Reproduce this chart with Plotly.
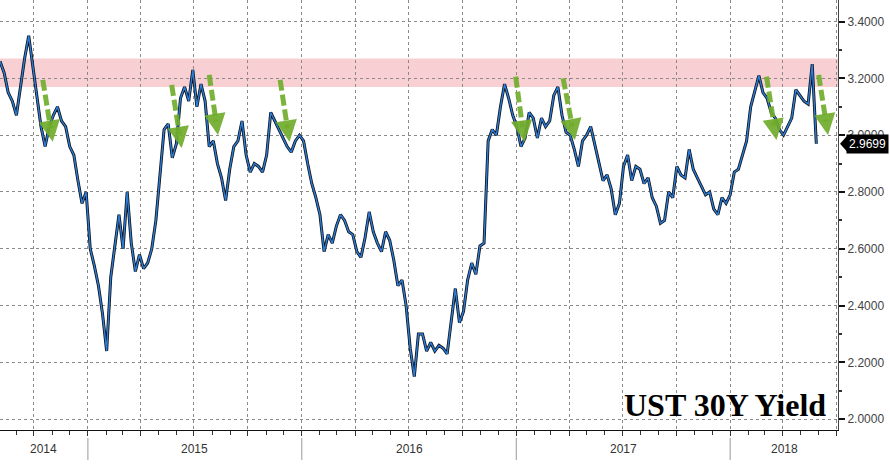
import plotly.graph_objects as go
import pandas as pd

# ---- weekly closes (UST 30Y yield, %) ----
q3_2014 = [3.26, 3.22, 3.15, 3.12, 3.07, 3.18, 3.27, 3.35, 3.24]
q4_2014 = [3.12, 3.03, 2.96, 3.03, 3.07, 3.10, 3.05, 3.03, 2.96, 2.93, 2.84, 2.76, 2.80]
q1_2015 = [2.60, 2.54, 2.47, 2.37, 2.24, 2.50, 2.62, 2.72, 2.60, 2.80, 2.62, 2.52, 2.58]
q2_2015 = [2.53, 2.55, 2.60, 2.70, 2.85, 3.02, 3.04, 2.92, 2.97, 3.13, 3.17, 3.12, 3.23]
q3_2015 = [3.10, 3.18, 3.12, 2.96, 2.98, 2.90, 2.85, 2.77, 2.88, 2.96, 2.98, 3.05, 2.93]
q4_2015 = [2.87, 2.90, 2.89, 2.87, 2.93, 3.08, 3.05, 3.02, 2.99, 2.96, 2.94, 2.98, 3.00]
q1_2016 = [2.98, 2.90, 2.83, 2.78, 2.72, 2.59, 2.65, 2.62, 2.68, 2.72, 2.70, 2.66, 2.65]
q2_2016 = [2.59, 2.57, 2.64, 2.73, 2.66, 2.62, 2.59, 2.66, 2.63, 2.56, 2.47, 2.49, 2.40]
q3_2016 = [2.25, 2.15, 2.30, 2.30, 2.24, 2.27, 2.24, 2.26, 2.25, 2.23, 2.35, 2.46, 2.34]
q4_2016 = [2.38, 2.49, 2.55, 2.51, 2.61, 2.62, 2.98, 3.02, 3.00, 3.10, 3.18, 3.13, 3.07]
q1_2017 = [3.03, 2.96, 2.99, 3.08, 3.06, 2.99, 3.06, 3.03, 3.05, 3.14, 3.17, 3.07, 3.01]
q2_2017 = [3.00, 2.95, 2.89, 2.98, 3.00, 3.03, 2.97, 2.91, 2.84, 2.86, 2.81, 2.72, 2.76]
q3_2017 = [2.89, 2.93, 2.84, 2.89, 2.88, 2.83, 2.85, 2.78, 2.75, 2.69, 2.70, 2.80, 2.78]
q4_2017 = [2.89, 2.86, 2.85, 2.95, 2.88, 2.85, 2.82, 2.79, 2.80, 2.74, 2.72, 2.78, 2.76]
q1_2018 = [2.79, 2.87, 2.88, 2.93, 2.98, 3.10, 3.16, 3.21, 3.15, 3.13, 3.08, 3.06, 3.02]
q2_2018 = [3.00, 3.03, 3.06, 3.16, 3.14, 3.12, 3.11, 3.25, 2.9699]

first_week = "2014-08-04"
last_value = 2.9699
last_label = "2.9699"
title_text = "UST 30Y Yield"

# resistance band
band_low, band_high = 3.17, 3.27

# green dashed arrows: (start date, start yield) -> (tip date, tip yield)
arrow_start_dates = ["2014-10-16", "2015-05-24", "2015-07-27", "2015-11-25",
                     "2016-12-31", "2017-03-22", "2018-03-04", "2018-06-01"]
arrow_start_vals = [3.195, 3.177, 3.212, 3.195, 3.206, 3.200, 3.206, 3.212]
arrow_tip_dates = ["2014-11-02", "2015-06-10", "2015-08-11", "2015-12-11",
                   "2017-01-15", "2017-04-11", "2018-03-21", "2018-06-17"]
arrow_tip_vals = [2.977, 2.955, 3.001, 2.977, 2.977, 2.983, 2.983, 3.001]

year_labels = ["2014", "2015", "2016", "2017", "2018"]
y_tick_vals = [2.0, 2.2, 2.4, 2.6, 2.8, 3.0, 3.2, 3.4]
x_range = ["2014-08-04", "2018-07-04"]
y_range = [1.962, 3.476]

yield_close = (q3_2014 + q4_2014 + q1_2015 + q2_2015 + q3_2015 + q4_2015 +
               q1_2016 + q2_2016 + q3_2016 + q4_2016 + q1_2017 + q2_2017 +
               q3_2017 + q4_2017 + q1_2018 + q2_2018)
dates = pd.date_range(first_week, periods=len(yield_close), freq="7D")

W, H = 890, 465
M_L, M_R, M_T, M_B = 0, 52, 0, 35
PW, PH = W - M_L - M_R, H - M_T - M_B

fig = go.Figure()
fig.add_trace(go.Scatter(x=dates, y=yield_close, mode="lines",
                         line=dict(color="#111111", width=3.0), hoverinfo="skip",
                         showlegend=False))
fig.add_trace(go.Scatter(x=dates, y=yield_close, mode="lines",
                         line=dict(color="#2a7ddc", width=1.4),
                         showlegend=False))

shapes = []
annotations = []

# pink band
shapes.append(dict(type="rect", xref="paper", yref="y", x0=0, x1=1,
                   y0=band_low, y1=band_high, fillcolor="#f8d0d4",
                   line=dict(width=0), layer="below"))

# arrows
green = "rgba(112,172,44,0.92)"
for sd, sv, td, tv in zip(arrow_start_dates, arrow_start_vals,
                          arrow_tip_dates, arrow_tip_vals):
    s = pd.Timestamp(sd)
    t = pd.Timestamp(td)
    h = s + (t - s) * 0.78
    hv = sv + (tv - sv) * 0.78
    shapes.append(dict(type="line", xref="x", yref="y", x0=s, y0=sv, x1=h, y1=hv,
                       line=dict(color=green, width=5, dash="11px,4px")))
    annotations.append(dict(x=t, y=tv, xref="x", yref="y", ax=h, ay=hv,
                            axref="x", ayref="y", text="", showarrow=True,
                            arrowhead=2, arrowsize=0.85, arrowwidth=5,
                            arrowcolor=green))

# year separators and labels
x0r, x1r = pd.Timestamp(x_range[0]), pd.Timestamp(x_range[1])
for yl in year_labels:
    ys = pd.Timestamp(yl + "-01-01")
    ye = pd.Timestamp(str(int(yl) + 1) + "-01-01")
    if ys > x0r:
        shapes.append(dict(type="line", xref="x", yref="paper", x0=ys, x1=ys,
                           y0=-8 / PH, y1=-30 / PH,
                           line=dict(color="#999999", width=1)))
    a, b = max(ys, x0r), min(ye, x1r)
    annotations.append(dict(x=a + (b - a) / 2, y=-19 / PH, xref="x", yref="paper",
                            text=yl, showarrow=False, yanchor="middle",
                            font=dict(family="Liberation Sans Narrow, Liberation Sans, Arial",
                                      size=12, color="#333333")))

# last value marker
shapes.append(dict(type="path", xref="paper", yref="y",
                   path=f"M {1 + 2 / PW} {last_value} L {1 + 9 / PW} {last_value + 0.027} "
                        f"L {1 + 9 / PW} {last_value - 0.027} Z",
                   fillcolor="black", line=dict(width=0)))
annotations.append(dict(x=1 + 8 / PW, y=last_value, xref="paper", yref="y",
                        text=last_label, showarrow=False, xanchor="left",
                        yanchor="middle", bgcolor="black", borderpad=2,
                        font=dict(family="Liberation Sans, Arial", size=12, color="white")))

# title inside the plot
annotations.append(dict(x=828 / PW, y=(PH - 405) / PH, xref="paper", yref="paper",
                        text="<b>" + title_text + "</b>", showarrow=False,
                        xanchor="right", yanchor="middle",
                        font=dict(family="Liberation Serif, Times New Roman, serif",
                                  size=32, color="black")))

fig.update_layout(
    width=W, height=H,
    margin=dict(l=M_L, r=M_R, t=M_T, b=M_B),
    paper_bgcolor="white", plot_bgcolor="white",
    shapes=shapes, annotations=annotations,
    showlegend=False,
    xaxis=dict(range=x_range, type="date", showticklabels=False,
               tick0="2014-10-01", dtick="M3", showgrid=True,
               gridcolor="#8a8a8a", griddash="dot", gridwidth=1,
               ticks="outside", ticklen=5, tickcolor="#333333",
               minor=dict(dtick="M1", ticks="outside", ticklen=4,
                          tickcolor="#333333", showgrid=False),
               showline=True, linecolor="#111111", linewidth=1, zeroline=False),
    yaxis=dict(range=y_range, side="right", tickvals=y_tick_vals,
               tickformat=".4f", showgrid=True, gridcolor="#8a8a8a",
               griddash="dot", gridwidth=1, ticks="outside", ticklen=6,
               tickwidth=2, tickcolor="#111111",
               minor=dict(dtick=0.1, tick0=2.0, ticks="outside", ticklen=3,
                          tickcolor="#333333", showgrid=False),
               tickfont=dict(family="Liberation Sans, Arial", size=12, color="#444444"),
               showline=True, linecolor="#444444", linewidth=1, zeroline=False),
)

fig.write_html("out.html", config={"displayModeBar": False},
               post_script="document.body.style.margin='0px';document.body.style.overflow='hidden';")
